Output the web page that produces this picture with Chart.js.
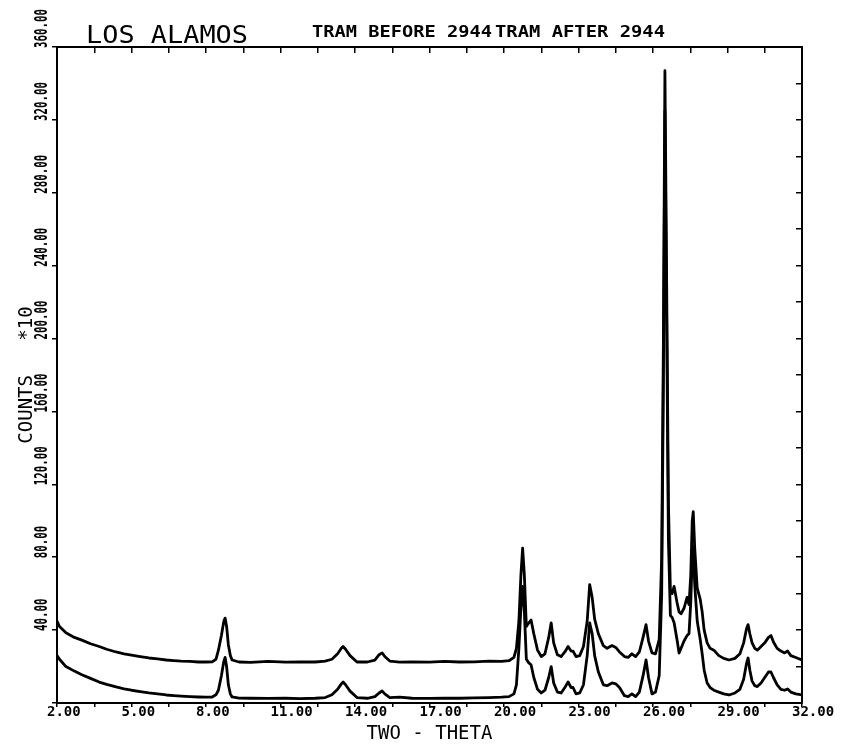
<!DOCTYPE html>
<html>
<head>
<meta charset="utf-8">
<script src="https://cdn.jsdelivr.net/npm/chart.js@4.4.1/dist/chart.umd.min.js"></script>
<style>
html,body{margin:0;padding:0;background:#fff;}
canvas{display:block;}
</style>
</head>
<body>
<canvas id="c" width="842" height="749"></canvas>
<script>
// ---- data ----
const twoTheta = [
  2.00, 2.10, 2.36, 2.70, 3.00, 3.35, 3.70, 4.00, 4.38, 4.70,
  5.00, 5.35, 5.70, 6.05, 6.40, 6.70, 7.00, 7.35, 7.70, 8.00,
  8.25, 8.40, 8.50, 8.62, 8.72, 8.77, 8.83, 8.90, 8.98, 9.05,
  9.33, 9.80, 10.50, 11.20, 11.80, 12.40, 12.80, 13.07, 13.30, 13.45,
  13.52, 13.62, 13.80, 14.08, 14.50, 14.80, 14.97, 15.09, 15.20, 15.40,
  15.80, 16.30, 17.00, 17.60, 18.20, 18.80, 19.40, 19.90, 20.20, 20.40,
  20.50, 20.60, 20.68, 20.75, 20.82, 20.90, 21.00, 21.09, 21.20, 21.35,
  21.50, 21.65, 21.80, 21.90, 22.00, 22.15, 22.30, 22.45, 22.58, 22.70,
  22.78, 22.90, 23.05, 23.20, 23.35, 23.45, 23.55, 23.65, 23.80, 24.00,
  24.15, 24.35, 24.50, 24.65, 24.85, 25.00, 25.15, 25.30, 25.45, 25.60,
  25.72, 25.82, 25.96, 26.10, 26.25, 26.35, 26.42, 26.48, 26.55, 26.62,
  26.70, 26.77, 26.85, 26.97, 27.05, 27.13, 27.25, 27.37, 27.45, 27.52,
  27.58, 27.62, 27.68, 27.78, 27.90, 27.98, 28.06, 28.18, 28.30, 28.45,
  28.65, 28.85, 29.06, 29.30, 29.50, 29.65, 29.77, 29.83, 29.90, 29.99,
  30.10, 30.20, 30.35, 30.50, 30.65, 30.75, 30.85, 31.00, 31.15, 31.30,
  31.42, 31.55, 31.75, 32.00
];
const tramBeforeCounts = [
  45, 42, 38.5, 36, 34.5, 32.5, 31, 29.5, 28, 27,
  26.3, 25.5, 24.7, 24.2, 23.6, 23.3, 23, 22.8, 22.5, 22.5,
  22.6, 24, 29, 37, 45, 46.6, 42, 32, 26, 23.6,
  22.5, 22.3, 22.8, 22.4, 22.6, 22.5, 23, 24, 27, 30,
  31, 29.5, 26, 22.5, 22.5, 23.5, 26.5, 27.5, 25.5, 23,
  22.4, 22.6, 22.4, 22.8, 22.5, 22.6, 23, 22.8, 23.2, 25,
  30, 45, 70, 85, 70, 42, 44, 45.5, 38, 29,
  25.5, 27, 36, 44, 33, 26.5, 25.5, 28, 31, 28.5,
  28.5, 25.5, 26, 31, 45, 65, 58, 46, 38, 31.5,
  30, 31.5, 30.5, 28, 25.5, 25, 27, 25.5, 28, 36,
  43, 34, 27.5, 27, 35, 80, 200, 347, 230, 110,
  62, 60, 64, 55, 50, 49, 52, 58, 54, 70,
  100, 105, 85, 63, 57, 50, 40, 33, 30, 29,
  26, 24.5, 23.6, 24.5, 27, 33, 41, 43, 38, 33,
  30, 29, 31, 33, 36, 37, 33.5, 30, 28.5, 27.5,
  28.5, 26, 25, 23.6
];
const tramAfterCounts = [
  26, 24, 20, 17.5, 15.5, 13.5, 11.5, 10.2, 8.8, 7.8,
  7, 6.2, 5.5, 5, 4.4, 4.1, 3.8, 3.5, 3.3, 3.2,
  3.3, 4.5, 7, 15, 23, 25, 20, 10, 5, 3.3,
  2.7, 2.6, 2.5, 2.6, 2.4, 2.6, 3, 4.5, 7.5, 10.5,
  11.5, 10, 6.5, 3, 2.6, 3.5, 5.5, 6.6, 5, 3,
  3.2, 2.6, 2.5, 2.7, 2.6, 2.8, 3, 3.2, 3.5, 5,
  10, 30, 52, 64, 50, 24, 22, 21, 14, 7.5,
  5.5, 7, 14, 20, 11, 6, 5.5, 8.5, 11.5, 8.5,
  8.5, 5, 5.5, 10, 26, 44, 38, 26, 17, 10,
  9.5, 11, 10.5, 8.5, 4, 3.5, 5, 3.5, 6, 15,
  23.6, 14, 5, 6, 15, 60, 180, 325, 210, 90,
  48, 47, 44, 34.6, 27.4, 30, 34, 37, 38, 55,
  80, 86, 65, 45, 35, 27, 18, 11, 8.5, 7,
  6, 5, 4.4, 5.5, 7.5, 13, 22, 24.7, 18, 12,
  9.5, 9, 11, 14, 17, 17, 14, 10, 7.5, 7,
  7.7, 6, 5, 4.4
];
const seriesNames = ['TRAM BEFORE 2944', 'TRAM AFTER 2944'];
const chartTitle = 'LOS ALAMOS';
const xAxisTitle = 'TWO - THETA';
const yAxisTitle = 'COUNTS   *10';
const yTickValues = [40, 80, 120, 160, 200, 240, 280, 320, 360];

const MONO = '"DejaVu Sans Mono", "Liberation Mono", monospace';

function fitText(ctx, text, x, y, font, targetLen, rot, align, baseline) {
  ctx.save();
  ctx.font = font;
  const w = ctx.measureText(text).width;
  const sx = targetLen / w;
  ctx.translate(x, y);
  if (rot) ctx.rotate(rot);
  ctx.scale(sx, 1);
  ctx.fillStyle = '#000';
  ctx.textAlign = align || 'left';
  ctx.textBaseline = baseline || 'alphabetic';
  ctx.fillText(text, 0, 0);
  ctx.restore();
}

const textPlugin = {
  id: 'plotText',
  afterDraw(chart) {
    const ctx = chart.ctx;
    const ys = chart.scales.y;
    fitText(ctx, chartTitle, 86, 43, '25px ' + MONO, 162);
    fitText(ctx, seriesNames[0], 312, 37, 'bold 16px ' + MONO, 180);
    fitText(ctx, seriesNames[1], 495, 37, 'bold 16px ' + MONO, 170);
    yTickValues.forEach(v => {
      const label = v.toFixed(2);
      const py = ys.getPixelForValue(v);
      fitText(ctx, label, 42, py + 1, 'bold 18px ' + MONO, label.length * 6.5, -Math.PI / 2, 'left', 'middle');
    });
  }
};

const isLabeled = v => { const k = (v - 2) / 3; return Math.abs(k - Math.round(k)) < 1e-6; };

new Chart(document.getElementById('c'), {
  type: 'line',
  data: {
    datasets: [
      { label: seriesNames[0], data: twoTheta.map((t, i) => ({ x: t, y: tramBeforeCounts[i] })),
        borderColor: '#000', borderWidth: 2.8, pointRadius: 0, tension: 0, fill: false, borderJoinStyle: 'round' },
      { label: seriesNames[1], data: twoTheta.map((t, i) => ({ x: t, y: tramAfterCounts[i] })),
        borderColor: '#000', borderWidth: 2.8, pointRadius: 0, tension: 0, fill: false, borderJoinStyle: 'round' }
    ]
  },
  options: {
    responsive: false,
    animation: false,
    devicePixelRatio: 1,
    layout: { padding: { left: 0, top: 47, right: 40, bottom: 0 } },
    plugins: { legend: { display: false }, title: { display: false }, tooltip: { enabled: false } },
    scales: {
      x: {
        type: 'linear', position: 'bottom', min: 2, max: 32,
        ticks: { stepSize: 1.5, autoSkip: false, maxRotation: 0, minRotation: 0, align: 'start', labelOffset: -10, padding: -3,
          color: '#000', font: { family: MONO, size: 14, weight: 'bold' },
          callback: v => isLabeled(v) ? Number(v).toFixed(2) : '' },
        grid: { drawOnChartArea: false, drawTicks: true, tickLength: 4, color: '#000', lineWidth: 1.5 },
        border: { display: true, color: '#000', width: 2 },
        title: { display: true, text: xAxisTitle, color: '#000', font: { family: MONO, size: 19 }, padding: { top: 0, bottom: 4 } },
        afterFit: s => { s.height = 46; }
      },
      xTop: {
        type: 'linear', position: 'top', min: 2, max: 32,
        ticks: { display: false, stepSize: 1.5, autoSkip: false },
        grid: { drawOnChartArea: false, drawTicks: true, tickLength: -6, color: '#000', lineWidth: 1.5 },
        border: { display: true, color: '#000', width: 2 },
        afterFit: s => { s.height = 0; }
      },
      y: {
        type: 'linear', position: 'left', min: 0, max: 360,
        ticks: { display: false, stepSize: 40, autoSkip: false },
        grid: { drawOnChartArea: false, drawTicks: true, tickLength: 5, color: '#000', lineWidth: 1.5 },
        border: { display: true, color: '#000', width: 2 },
        title: { display: true, text: yAxisTitle, color: '#000', font: { family: MONO, size: 19 }, padding: { top: 16, bottom: 0 } },
        afterFit: s => { s.width = 57; }
      },
      yRight: {
        type: 'linear', position: 'right', min: 0, max: 360,
        ticks: { display: false, stepSize: 20, autoSkip: false },
        grid: { drawOnChartArea: false, drawTicks: true, tickLength: -6, color: '#000', lineWidth: 1.5 },
        border: { display: true, color: '#000', width: 2 },
        afterFit: s => { s.width = 0; }
      }
    }
  },
  plugins: [textPlugin]
});
</script>
</body>
</html>
